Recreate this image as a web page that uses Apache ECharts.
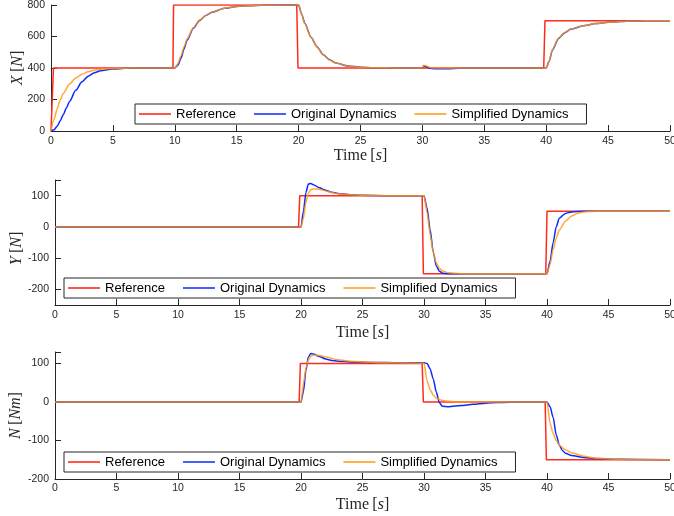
<!DOCTYPE html>
<html>
<head>
<meta charset="utf-8">
<script src="https://cdn.jsdelivr.net/npm/echarts@6/dist/echarts.min.js"></script>
<style>
  html, body { margin: 0; padding: 0; background: #fff; }
  #chart { width: 674px; height: 516px; }
</style>
</head>
<body>
<div id="chart"></div>
<script>
// Series names shown in each legend
const seriesNames = ['Reference', 'Original Dynamics', 'Simplified Dynamics'];

// Time axis ticks (s)
const timeTicks = { min: 0, max: 50, interval: 5 };

// ---- X force [N]: [time, value] ----
const xReference = [[0,0],[0.2,400],[9.85,400],[9.9,800],[19.85,800],[19.95,400],[39.8,400],[39.9,700],[50,700]];
const xOriginal = [[0,0],[0.25,8],[0.5,30],[0.75,65],[1,105],[1.25,148],[1.5,188],[2,258],[2.5,312],[3,348],[3.5,370],[4,383],[5,394],[6,398],[7,400],[10,400],[10.25,418],[10.5,462],[10.75,522],[11,578],[11.5,652],[12,702],[12.5,733],[13,754],[14,779],[15,790],[16,796],[17,799],[20,800],[20.25,742],[20.5,684],[21,596],[21.5,534],[22,484],[22.5,452],[23,432],[24,413],[25,405],[26,402],[28,400],[30,400],[30.1,412],[30.3,408],[30.6,398],[31,395],[32,396],[33,399],[34,400],[40,400],[40.25,445],[40.5,515],[41,588],[41.5,624],[42,647],[43,668],[44,682],[45,690],[46,695],[47,698],[48,700],[50,700]];
const xSimplified = [[0,0],[0.25,75],[0.5,142],[0.75,198],[1,240],[1.5,298],[2,336],[2.5,360],[3,376],[3.5,386],[4,392],[5,397],[6,399],[7,400],[10,400],[10.25,428],[10.5,478],[10.75,535],[11,586],[11.5,657],[12,704],[12.5,734],[13,755],[14,780],[15,791],[16,796],[17,799],[20,800],[20.25,740],[20.5,682],[21,593],[21.5,532],[22,482],[22.5,451],[23,431],[24,412],[25,405],[26,402],[28,400],[30,400],[30.1,418],[30.3,414],[30.6,403],[31,400],[40,400],[40.25,448],[40.5,518],[41,590],[41.5,625],[42,648],[43,668],[44,682],[45,690],[46,695],[47,698],[48,700],[50,700]];

// ---- Y force [N] ----
const yReference = [[0,0],[19.8,0],[19.9,100],[29.85,100],[29.95,-150],[39.9,-150],[40,50],[50,50]];
const yOriginal = [[0,0],[20,0],[20.2,50],[20.4,110],[20.6,137],[20.8,139],[21,135],[21.5,125],[22,117],[22.5,111],[23,107],[24,103],[25,101],[27,100],[30,100],[30.25,60],[30.5,-10],[30.75,-80],[31,-125],[31.25,-142],[31.5,-148],[32,-150],[40,-150],[40.25,-110],[40.5,-50],[40.75,0],[41,28],[41.5,43],[42,48],[43,50],[50,50]];
const ySimplified = [[0,0],[20,0],[20.2,28],[20.4,78],[20.6,108],[20.8,119],[21,122],[21.5,120],[22,115],[22.5,110],[23,106],[24,103],[25,101],[27,100],[30,100],[30.25,45],[30.5,-25],[30.75,-82],[31,-115],[31.25,-132],[31.5,-141],[32,-147],[33,-150],[40,-150],[40.25,-120],[40.5,-72],[40.75,-36],[41,-10],[41.5,18],[42,35],[42.5,44],[43,48],[44,50],[50,50]];

// ---- N moment [Nm] ----
const nReference = [[0,0],[19.85,0],[19.95,100],[29.85,100],[29.95,0],[39.85,0],[39.95,-150],[50,-150]];
const nOriginal = [[0,0],[20,0],[20.2,28],[20.4,82],[20.6,117],[20.8,126],[21,125],[21.5,118],[22,112],[22.5,108],[23,106],[24,104],[26,103],[28,102],[30,102],[30.25,100],[30.5,86],[30.75,60],[31,26],[31.25,-2],[31.5,-11],[32,-12],[33,-9],[34,-6],[35,-3],[36,-1],[38,0],[40,0],[40.25,-12],[40.5,-40],[40.75,-85],[41,-112],[41.25,-126],[41.5,-133],[42,-139],[43,-144],[44,-147],[46,-149],[50,-150]];
const nSimplified = [[0,0],[20,0],[20.2,48],[20.4,88],[20.6,110],[20.8,119],[21,122],[21.5,121],[22,117],[23,110],[24,106],[25,104],[27,102],[30,101],[30.25,55],[30.5,32],[30.75,18],[31,10],[31.5,4],[32,2],[33,0],[40,0],[40.25,-55],[40.5,-82],[40.75,-100],[41,-112],[41.5,-124],[42,-132],[43,-141],[44,-146],[45,-148],[47,-150],[50,-150]];

// Value ranges of the three panels
const xRange = { min: 0, max: 800, interval: 200 };
const yRange = { min: -250, max: 150, splitNumber: 4 };
const nRange = { min: -200, max: 130, interval: 100 };

const axisColor = '#262626';
const sansFont = '"Liberation Sans", Arial, Helvetica, sans-serif';
const serifFont = '"Liberation Serif", "Times New Roman", serif';
const colors = { ref: '#ff2a1a', orig: '#0a2aff', simp: '#ff9a10' };

const richName = {
  r: { fontFamily: serifFont, fontSize: 16, color: axisColor },
  i: { fontFamily: serifFont, fontSize: 16, fontStyle: 'italic', color: axisColor }
};

const panels = [
  { top: 5,   height: 126, left: 51, yr: xRange, name: '{i|X} {r|[}{i|N}{r|]}',  yGap: 25, xGap: 17, labelMargin: 5, legendTop: 104, legendLeft: 135, data: [xReference, xOriginal, xSimplified], namePad: [0,0,0,0] },
  { top: 180, height: 125, left: 55, yr: yRange, name: '{i|Y} {r|[}{i|N}{r|]}',  yGap: 30, xGap: 20, labelMargin: 5, legendTop: 278, legendLeft: 64,  data: [yReference, yOriginal, ySimplified], namePad: [0,12,0,0] },
  { top: 352, height: 127, left: 55, yr: nRange, name: '{i|N} {r|[}{i|Nm}{r|]}', yGap: 31, xGap: 18, labelMargin: 4, legendTop: 452, legendLeft: 64,  data: [nReference, nOriginal, nSimplified], namePad: [0,0,0,0] }
];

const option = {
  animation: false,
  backgroundColor: '#fff',
  grid: [], xAxis: [], yAxis: [], legend: [], series: []
};

panels.forEach((p, k) => {
  option.grid.push({ left: p.left, right: 4, top: p.top, height: p.height, containLabel: false, outerBoundsMode: 'none' });
  option.xAxis.push({
    type: 'value', gridIndex: k,
    min: timeTicks.min, max: timeTicks.max, interval: timeTicks.interval,
    name: '{r|Time} {r|[}{i|s}{r|]}', nameLocation: 'middle', nameGap: p.xGap,
    nameMoveOverlap: false,
    nameTextStyle: { rich: richName },
    axisLine: { onZero: false, lineStyle: { color: axisColor, width: 1 } },
    axisTick: { inside: true, length: 6, lineStyle: { color: axisColor } },
    axisLabel: { margin: p.labelMargin, fontFamily: sansFont, fontSize: 10.5, color: axisColor },
    splitLine: { show: false }
  });
  const ya = {
    type: 'value', gridIndex: k,
    min: p.yr.min, max: p.yr.max,
    name: p.name, nameLocation: 'middle', nameRotate: 90, nameGap: p.yGap,
    nameMoveOverlap: false,
    nameTextStyle: { rich: richName, padding: p.namePad },
    axisLine: { show: true, onZero: false, lineStyle: { color: axisColor, width: 1 } },
    axisTick: { show: true, inside: true, length: 6, lineStyle: { color: axisColor } },
    axisLabel: { margin: 6, fontFamily: sansFont, fontSize: 10.5, color: axisColor,
      formatter: v => (Math.abs(v % 100) < 1e-9 ? String(v) : '') },
    splitLine: { show: false }
  };
  if (p.yr.interval) ya.interval = p.yr.interval;
  if (p.yr.splitNumber) ya.splitNumber = p.yr.splitNumber;
  option.yAxis.push(ya);

  // Legend: plain line samples inside a thin box
  option.legend.push({
    top: p.legendTop, left: p.legendLeft, orient: 'horizontal',
    data: seriesNames, selectedMode: false,
    icon: 'rect', itemWidth: 32, itemHeight: 1.6, itemGap: 18,
    padding: [3, 18, 3, 4],
    borderColor: axisColor, borderWidth: 1, borderRadius: 0, backgroundColor: '#fff',
    textStyle: { fontFamily: sansFont, fontSize: 13, color: '#000', lineHeight: 14 }
  });

  const cols = [colors.ref, colors.orig, colors.simp];
  p.data.forEach((d, j) => {
    option.series.push({
      name: seriesNames[j], type: 'line', xAxisIndex: k, yAxisIndex: k,
      data: d, symbol: 'none', showSymbol: false,
      smooth: j === 0 ? false : 0.25, smoothMonotone: 'x',
      lineStyle: { color: cols[j], width: 1.5, opacity: j === 2 ? 0.85 : 1 },
      itemStyle: { color: cols[j] },
      z: 2 + j
    });
  });
});

const chart = echarts.init(document.getElementById('chart'), null, { renderer: 'canvas' });
chart.setOption(option);
</script>
</body>
</html>
